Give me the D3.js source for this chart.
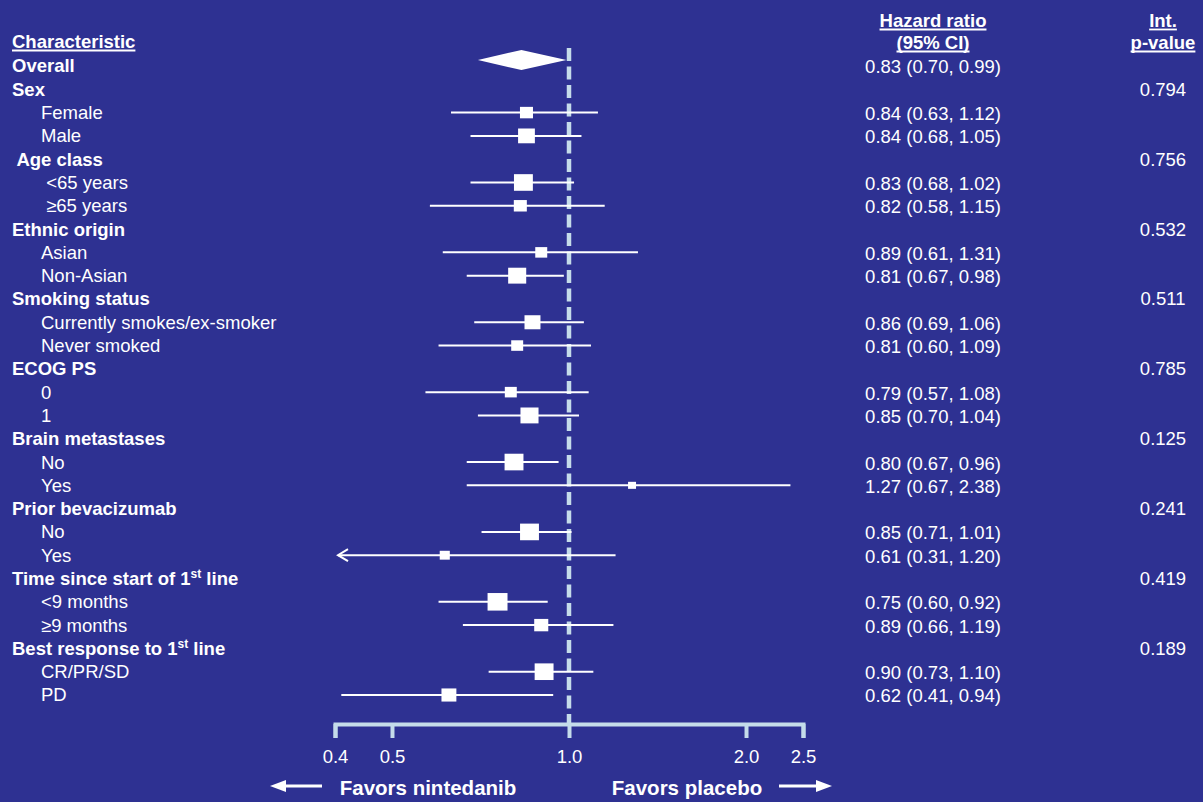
<!DOCTYPE html>
<html>
<head>
<meta charset="utf-8">
<script src="https://cdn.jsdelivr.net/npm/d3@7"></script>
<style>
  body { margin: 0; background: #2e3192; }
  svg { display: block; }
  text { font-family: "Liberation Sans", Arial, sans-serif; fill: #fff; white-space: pre; }
</style>
</head>
<body>
<script>
// rows, top to bottom
var labels = ["Overall", "Sex", "Female", "Male", " Age class", "<65 years", "\u226565 years",
  "Ethnic origin", "Asian", "Non-Asian", "Smoking status", "Currently smokes/ex-smoker", "Never smoked",
  "ECOG PS", "0", "1", "Brain metastases", "No", "Yes", "Prior bevacizumab", "No", "Yes",
  "Time since start of 1|st| line", "<9 months", "\u22659 months", "Best response to 1|st| line", "CR/PR/SD", "PD"];
var rowType = ["overall", "group", "sub", "sub", "group", "sub2", "sub2",
  "group", "sub", "sub", "group", "sub", "sub",
  "group", "sub", "sub", "group", "sub", "sub", "group", "sub", "sub",
  "group", "sub", "sub", "group", "sub", "sub"];
var hr   = [0.83, null, 0.84, 0.84, null, 0.83, 0.82, null, 0.89, 0.81, null, 0.86, 0.81, null, 0.79, 0.85, null, 0.80, 1.27, null, 0.85, 0.61, null, 0.75, 0.89, null, 0.90, 0.62];
var lo   = [0.70, null, 0.63, 0.68, null, 0.68, 0.58, null, 0.61, 0.67, null, 0.69, 0.60, null, 0.57, 0.70, null, 0.67, 0.67, null, 0.71, 0.31, null, 0.60, 0.66, null, 0.73, 0.41];
var hi   = [0.99, null, 1.12, 1.05, null, 1.02, 1.15, null, 1.31, 0.98, null, 1.06, 1.09, null, 1.08, 1.04, null, 0.96, 2.38, null, 1.01, 1.20, null, 0.92, 1.19, null, 1.10, 0.94];
// relative weight of each subgroup (box size)
var weight = [null, null, 0.62, 0.80, null, 0.90, 0.62, null, 0.57, 0.86, null, 0.76, 0.57, null, 0.57, 0.86, null, 0.90, 0.38, null, 0.90, 0.48, null, 0.95, 0.67, null, 0.90, 0.71];
var pval = [null, "0.794", null, null, "0.756", null, null, "0.532", null, null, "0.511", null, null,
  "0.785", null, null, "0.125", null, null, "0.241", null, null, "0.419", null, null, "0.189", null, null];
var ticks = [0.4, 0.5, 1.0, 2.0, 2.5];

var width = 1203, height = 802;
var fs = 18.5;
var svg = d3.select("body").append("svg").attr("width", width).attr("height", height);
svg.append("rect").attr("width", width).attr("height", height).attr("fill", "#2e3192");

var x = d3.scaleLog().domain([0.4, 2.5]).range([335, 803]);
var y = d3.scaleLinear().domain([0, labels.length - 1]).range([66, 695]);
var box = d3.scaleLinear().domain([0, 1]).range([0, 21]);
var axisY = 724;
var lineColor = "#c5dcea";

// headers, underlined by hand
var hdr = svg.append("g").attr("font-weight", "bold").attr("font-size", fs);
function header(tx, ty, anchor, s) {
  var t = hdr.append("text").attr("x", tx).attr("y", ty).attr("text-anchor", anchor).text(s);
  var w = t.node().getComputedTextLength();
  var x0 = anchor === "middle" ? tx - w / 2 : tx;
  hdr.append("line").attr("x1", x0).attr("x2", x0 + w)
    .attr("y1", ty + 2.5).attr("y2", ty + 2.5)
    .attr("stroke", "#fff").attr("stroke-width", 1.8);
}
header(12, 48, "start", "Characteristic");
header(933, 27, "middle", "Hazard ratio");
header(933, 49, "middle", "(95% CI)");
header(1163, 27, "middle", "Int.");
header(1163, 49, "middle", "p-value");

// reference line at HR = 1
svg.append("line")
  .attr("x1", x(1)).attr("x2", x(1))
  .attr("y1", 48).attr("y2", axisY)
  .attr("stroke", lineColor).attr("stroke-width", 4.5)
  .attr("stroke-dasharray", "13,5.5");

var rows = labels.map(function(l, i) {
  return { label: l, type: rowType[i], hr: hr[i], lo: lo[i], hi: hi[i], w: weight[i], p: pval[i], i: i };
});

var indent = { overall: 12, group: 12, sub: 41, sub2: 41 };

// row labels (with superscripts marked by |..|)
rows.forEach(function(d) {
  var t = svg.append("text")
    .attr("x", indent[d.type]).attr("y", y(d.i)).attr("dy", "0.35em")
    .attr("font-size", fs)
    .attr("font-weight", d.type === "group" || d.type === "overall" ? "bold" : "normal");
  var parts = d.label.split("|");
  if (d.type === "sub2") parts[0] = " " + parts[0];
  parts.forEach(function(p, k) {
    var ts = t.append("tspan").text(p);
    if (k % 2 === 1) ts.attr("font-size", 12).attr("dy", -7);
    else if (k > 0) ts.attr("dy", 7);
  });
});

// hazard ratio text and p-values
var fmt = d3.format(".2f");
svg.append("g").selectAll("text")
  .data(rows.filter(function(d) { return d.hr != null; }))
  .join("text")
  .attr("x", 933).attr("y", function(d) { return y(d.i) + 1; }).attr("dy", "0.35em")
  .attr("text-anchor", "middle").attr("font-size", fs)
  .text(function(d) { return fmt(d.hr) + " (" + fmt(d.lo) + ", " + fmt(d.hi) + ")"; });

svg.append("g").selectAll("text")
  .data(rows.filter(function(d) { return d.p; }))
  .join("text")
  .attr("x", 1163).attr("y", function(d) { return y(d.i); }).attr("dy", "0.35em")
  .attr("text-anchor", "middle").attr("font-size", fs)
  .text(function(d) { return d.p; });

// overall diamond
var ov = rows[0], oy = y(0) - 6;
svg.append("path")
  .attr("d", "M" + x(ov.lo) + "," + oy + "L" + x(ov.hr) + "," + (oy - 10) +
    "L" + x(ov.hi) + "," + oy + "L" + x(ov.hr) + "," + (oy + 10) + "Z")
  .attr("fill", "#fff");

// subgroup CIs and boxes
var subs = rows.filter(function(d) { return d.hr != null && d.type !== "overall"; });
var g = svg.append("g");
g.selectAll("line.ci").data(subs).join("line")
  .attr("class", "ci")
  .attr("x1", function(d) { return d.lo < 0.4 ? x(0.4) + 3 : x(d.lo); })
  .attr("x2", function(d) { return x(d.hi); })
  .attr("y1", function(d) { return y(d.i); })
  .attr("y2", function(d) { return y(d.i); })
  .attr("stroke", "#fff").attr("stroke-width", 2);

// truncated CI gets an open arrow head
g.selectAll("path.arr").data(subs.filter(function(d) { return d.lo < 0.4; })).join("path")
  .attr("class", "arr")
  .attr("d", function(d) {
    var tx = x(0.4) + 3, ty = y(d.i);
    return "M" + (tx + 10) + "," + (ty - 6) + "L" + tx + "," + ty + "L" + (tx + 10) + "," + (ty + 6);
  })
  .attr("fill", "none").attr("stroke", "#fff").attr("stroke-width", 2);

g.selectAll("rect").data(subs).join("rect")
  .attr("x", function(d) { return x(d.hr) - box(d.w) / 2 + 2; })
  .attr("y", function(d) { return y(d.i) - box(d.w) * 0.44; })
  .attr("width", function(d) { return box(d.w); })
  .attr("height", function(d) { return box(d.w) * 0.88; })
  .attr("fill", "#fff");

// x axis
var axis = svg.append("g")
  .attr("transform", "translate(0," + axisY + ")")
  .call(d3.axisBottom(x).tickValues(ticks).tickFormat(d3.format(".1f"))
    .tickSize(14).tickSizeOuter(14).tickPadding(12));
axis.select(".domain").attr("stroke", lineColor).attr("stroke-width", 4);
axis.selectAll(".tick line").attr("stroke", lineColor).attr("stroke-width", 4);
axis.selectAll(".tick text").attr("fill", "#fff").attr("font-size", fs)
  .attr("font-family", "Liberation Sans, Arial, sans-serif");

// favors labels with arrows
var fav = svg.append("g").attr("font-weight", "bold").attr("font-size", 20.5);
fav.append("text").attr("x", 428).attr("y", 788).attr("dy", "0.35em").attr("text-anchor", "middle").text("Favors nintedanib");
fav.append("text").attr("x", 687).attr("y", 788).attr("dy", "0.35em").attr("text-anchor", "middle").text("Favors placebo");

svg.append("line").attr("x1", 322).attr("x2", 282).attr("y1", 786).attr("y2", 786)
  .attr("stroke", "#fff").attr("stroke-width", 3);
svg.append("path").attr("d", "M270,786L286,780L286,792Z").attr("fill", "#fff");
svg.append("line").attr("x1", 779).attr("x2", 820).attr("y1", 786).attr("y2", 786)
  .attr("stroke", "#fff").attr("stroke-width", 3);
svg.append("path").attr("d", "M832,786L816,780L816,792Z").attr("fill", "#fff");
</script>
</body>
</html>
